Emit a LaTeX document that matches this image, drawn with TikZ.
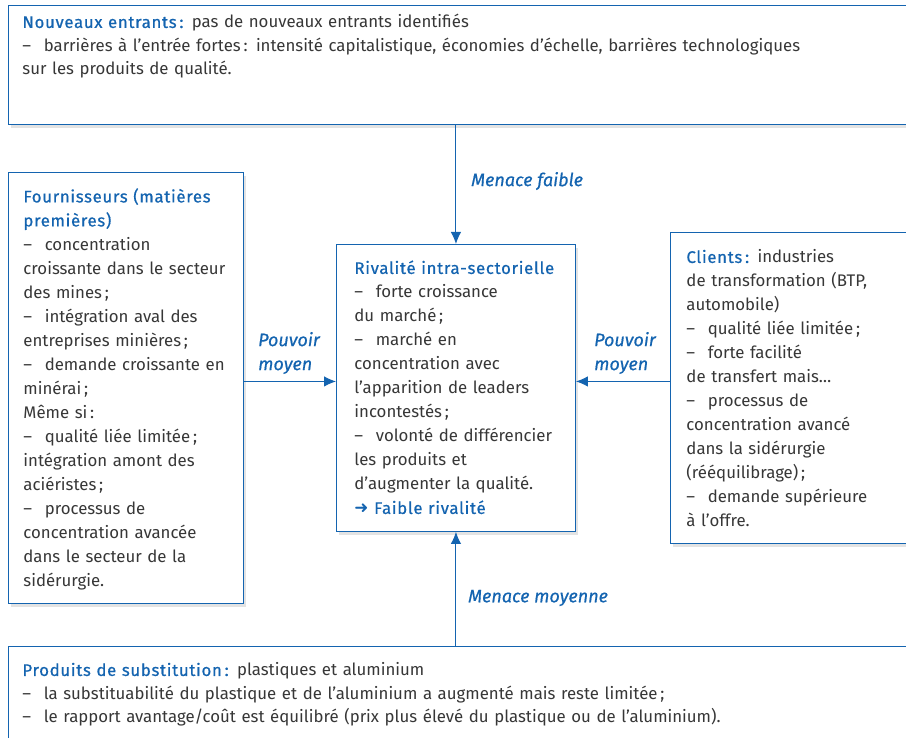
\documentclass[tikz,border=0pt]{standalone}
\usepackage{fontspec}
\setmainfont{Fira Sans}
\newfontfamily\headfont{Fira Sans}[FakeBold=0.6, LetterSpace=4]
\newfontfamily\labelfont{Fira Sans}[FakeBold=0.6]
\newfontfamily\symfont{DejaVu Sans}
\usetikzlibrary{arrows.meta, positioning, shadows}
\definecolor{porterblue}{RGB}{20,100,176}
\definecolor{portertext}{RGB}{55,55,55}
\newcommand{\tiret}{--\hspace{0.75em}}
\newcommand{\titre}[1]{{\headfont\textcolor{porterblue}{#1}}}

\begin{document}
\begin{tikzpicture}[
      x=1pt, y=-1pt,
      box/.style={rectangle, draw=porterblue, line width=0.9pt, fill=white, text=portertext, align=left, anchor=north west, inner ysep=0pt, text height=29.5pt, font=\fontsize{16.8}{24}\selectfont, drop shadow={opacity=0.22, shadow xshift=2.5pt, shadow yshift=-3.5pt}},
      lbl/.style={text=porterblue, font=\fontsize{18}{24}\selectfont\labelfont\itshape, align=left, anchor=west, inner sep=0pt},
      arrow/.style={-{Latex[length=12pt, width=10.5pt]}, porterblue, line width=1pt}
    ]
    \useasboundingbox (0,0) rectangle (906,738);

    \node[box, text width=884pt, inner xsep=14pt, text height=22.5pt, text depth=96.5pt, font=\fontsize{16.8}{23.5}\selectfont] (entrants) at (8,5) {\titre{Nouveaux entrants\,:} pas de nouveaux entrants identifiés\\
      \tiret barrières à l’entrée fortes\,: intensité capitalistique, économies d’échelle, barrières technologiques\\
      sur les produits de qualité.};

    \node[box, text width=205pt, inner xsep=15pt, text height=30pt, text depth=401pt] (four) at (8,172) {\titre{Fournisseurs (matières}\\
      \titre{premières)}\\
      \tiret concentration\\
      croissante dans le secteur\\
      des mines\,;\\
      \tiret intégration aval des\\
      entreprises minières\,;\\
      \tiret demande croissante en\\
      minérai\,;\\
      Même si\,:\\
      \tiret qualité liée limitée\,;\\
      intégration amont des\\
      aciéristes\,;\\
      \tiret processus de\\
      concentration avancée\\
      dans le secteur de la\\
      sidérurgie.};

    \node[box, text width=203pt, inner xsep=18pt, text depth=257.5pt] (rival) at (336,244) {\titre{Rivalité intra-sectorielle}\\
      \tiret forte croissance\\
      du marché\,;\\
      \tiret marché en\\
      concentration avec\\
      l’apparition de leaders\\
      incontestés\,;\\
      \tiret volonté de différencier\\
      les produits et\\
      d’augmenter la qualité.\\
      \titre{{\symfont ➜} Faible rivalité}};

    \node[box, text width=230pt, inner xsep=16pt, text height=30.5pt, text depth=280.5pt] (clients) at (670,232) {\titre{Clients\,:} industries\\
      de transformation (BTP,\\
      automobile)\\
      \tiret qualité liée limitée\,;\\
      \tiret forte facilité\\
      de transfert mais…\\
      \tiret processus de\\
      concentration avancé\\
      dans la sidérurgie\\
      (rééquilibrage)\,;\\
      \tiret demande supérieure\\
      à l’offre.};

    \node[box, text width=884pt, inner xsep=14pt, text depth=100pt, font=\fontsize{16.8}{23.5}\selectfont] (substitut) at (8,646) {\titre{Produits de substitution\,:} plastiques et aluminium\\
      \tiret la substituabilité du plastique et de l’aluminium a augmenté mais reste limitée\,;\\
      \tiret le rapport avantage/coût est équilibré (prix plus élevé du plastique ou de l’aluminium).};

    % forces vers la rivalite
    \coordinate (niveau) at ([yshift=6.5pt]rival.center);
    \draw[arrow] (rival.north |- entrants.south) -- (rival.north);
    \draw[arrow] (rival.south |- substitut.north) -- (rival.south);
    \draw[arrow] (four.east |- niveau) -- (rival.west |- niveau);
    \draw[arrow] (clients.west |- niveau) -- (rival.east |- niveau);

    \node[lbl] (mfaible) at (471,181) {Menace faible};
    \node[lbl] (pouvoirf) at (258,353) {Pouvoir\\moyen};
    \node[lbl] (pouvoirc) at (594,353) {Pouvoir\\moyen};
    \node[lbl] (mmoyenne) at (468,598) {Menace moyenne};

    \end{tikzpicture}
\end{document}
